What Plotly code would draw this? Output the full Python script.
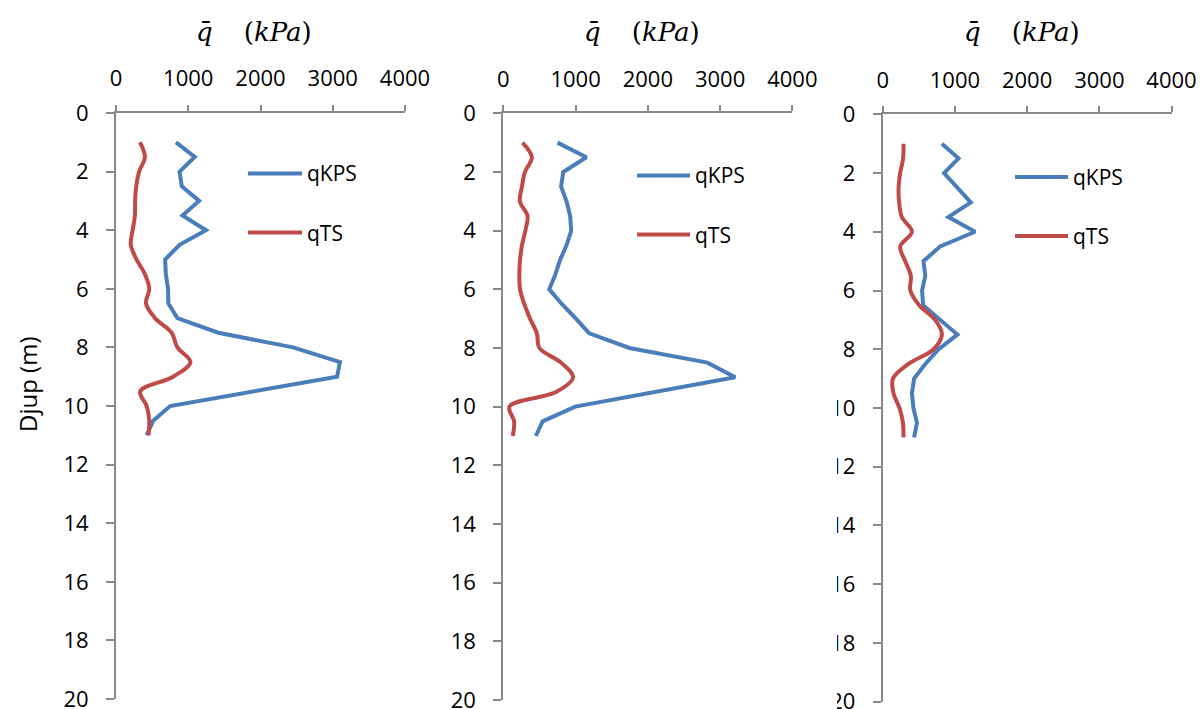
import plotly.graph_objects as go

# Depth below ground (m) for every reading
depth = [1.0, 1.5, 2.0, 2.5, 3.0, 3.5, 4.0, 4.5, 5.0, 5.5, 6.0,
         6.5, 7.0, 7.5, 8.0, 8.5, 9.0, 9.5, 10.0, 10.5, 11.0]

# Profile 1 (kPa)
q_kps_1 = [830, 1090, 880, 910, 1150, 920, 1245, 880, 680, 690, 720,
           725, 850, 1415, 2450, 3100, 3060, 1900, 750, 515, 425]
q_ts_1 = [330, 400, 320, 280, 265, 262, 230, 205, 285, 400, 460,
          415, 540, 770, 850, 1030, 790, 335, 425, 460, 450]

# Profile 2 (kPa)
q_kps_2 = [750, 1150, 830, 800, 875, 925, 940, 875, 785, 720, 636,
           810, 1005, 1190, 1745, 2825, 3210, 2100, 995, 545, 450]
q_ts_2 = [265, 395, 300, 258, 230, 335, 305, 258, 232, 222, 232,
          290, 370, 465, 500, 800, 965, 730, 85, 150, 130]

# Profile 3 (kPa)
q_kps_3 = [820, 1050, 850, 1035, 1220, 910, 1280, 795, 565, 590, 545,
           560, 795, 1035, 775, 590, 435, 405, 425, 475, 435]
q_ts_3 = [288, 283, 242, 220, 228, 265, 405, 242, 312, 390, 383,
          505, 727, 820, 705, 358, 142, 150, 233, 280, 288]

series_names = ["qKPS", "qTS"]
x_ticks = [0, 1000, 2000, 3000, 4000]
y_ticks = [0, 2, 4, 6, 8, 10, 12, 14, 16, 18, 20]
axis_title_x = "<i>q\u0304</i>\u2003\u2009(<i>kPa</i>)"
axis_title_y = "Djup (m)"

profiles = [(q_kps_1, q_ts_1), (q_kps_2, q_ts_2), (q_kps_3, q_ts_3)]

W, H = 1200, 709
BLUE = "#4A7EBB"
RED = "#BE4B48"
AXIS = "#898989"
FONT = "Open Sans"

# Plot areas in pixels: left, right, top, bottom
areas = [(116, 405, 113, 699), (503.3, 792.3, 113.3, 700), (882.7, 1171.5, 114.3, 701.7)]
# Legend anchor per panel: line start, line end, first row y, second row y
legend_pos = [(248, 302, 173.5, 232.5), (637, 690, 175.5, 234.5), (1015, 1068, 177, 236)]
# Panel heading centres
title_pos = [(254, 32), (642, 32), (1022, 32)]


def px(x):
    return x / W


def py(y):
    return 1 - y / H


fig = go.Figure()
layout = dict(
    width=W, height=H,
    margin=dict(l=0, r=0, t=0, b=0, autoexpand=False),
    paper_bgcolor="white", plot_bgcolor="white",
    showlegend=False,
    font=dict(family=FONT, size=22, color="black"),
    shapes=[], annotations=[],
)

for i, ((kps, ts), (l, r, t, b)) in enumerate(zip(profiles, areas)):
    n = "" if i == 0 else str(i + 1)
    xa, ya = "x" + n, "y" + n
    fig.add_trace(go.Scatter(x=kps, y=depth, xaxis=xa, yaxis=ya, mode="lines",
                             name=series_names[0],
                             line=dict(color=BLUE, width=4, shape="linear")))
    fig.add_trace(go.Scatter(x=ts, y=depth, xaxis=xa, yaxis=ya, mode="lines",
                             name=series_names[1],
                             line=dict(color=RED, width=4, shape="spline", smoothing=1)))
    layout["xaxis" + n] = dict(
        domain=[px(l), px(r)], anchor=ya, side="top", range=[0, 4000],
        tickvals=x_ticks, ticks="outside", ticklen=6, tickwidth=2, tickcolor=AXIS,
        showline=True, linecolor=AXIS, linewidth=2, showgrid=False, zeroline=False,
        automargin=False, ticklabeloverflow="allow",
        ticklabelstandoff=10, tickfont=dict(family=FONT, size=22, color="black"),
    )
    layout["yaxis" + n] = dict(
        domain=[py(b), py(t)], anchor=xa, range=[20, 0], autorange=False,
        tickvals=y_ticks, ticks="outside", ticklen=8, tickwidth=2, tickcolor=AXIS,
        showline=True, linecolor=AXIS, linewidth=2, showgrid=False, zeroline=False,
        automargin=False, ticklabeloverflow="allow",
        ticklabelstandoff=13, tickfont=dict(family=FONT, size=22, color="black"),
    )

    # Legend: line sample + label for each series
    lx0, lx1, ly1, ly2 = legend_pos[i]
    for name, color, ly in zip(series_names, [BLUE, RED], [ly1, ly2]):
        layout["shapes"].append(dict(type="line", xref="paper", yref="paper",
                                     x0=px(lx0), x1=px(lx1), y0=py(ly), y1=py(ly),
                                     line=dict(color=color, width=4)))
        layout["annotations"].append(dict(text=name, xref="paper", yref="paper",
                                          x=px(lx1 + 3), y=py(ly), xanchor="left",
                                          yanchor="middle", showarrow=False,
                                          font=dict(family=FONT, size=21, color="black")))

    tx, ty = title_pos[i]
    layout["annotations"].append(dict(text=axis_title_x, xref="paper", yref="paper",
                                      x=px(tx), y=py(ty), xanchor="center", yanchor="middle",
                                      showarrow=False,
                                      font=dict(family="DejaVu Serif", size=26, color="black")))

# Vertical axis title on the first panel
layout["annotations"].append(dict(text=axis_title_y, xref="paper", yref="paper",
                                  x=px(27), y=py(385), xanchor="center", yanchor="middle",
                                  textangle=-90, showarrow=False,
                                  font=dict(family=FONT, size=24, color="black")))

# The third chart's frame trims the left edge of its two-digit depth labels
layout["shapes"].append(dict(type="rect", xref="paper", yref="paper", layer="above",
                             x0=px(812), x1=px(837), y0=0, y1=py(370),
                             fillcolor="white", line=dict(width=0)))

fig.update_layout(**layout)
fig.write_html("out.html")
